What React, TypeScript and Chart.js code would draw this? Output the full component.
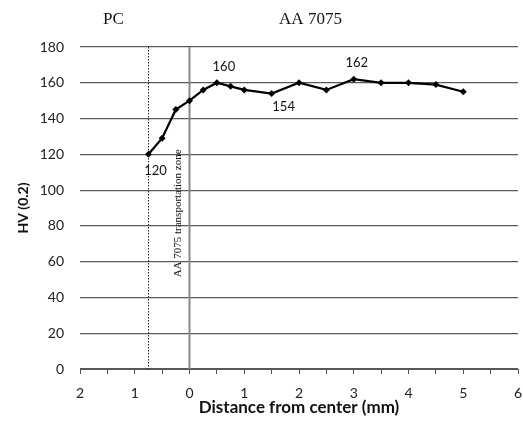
import React, { useEffect, useRef } from 'react';
import { Chart, registerables } from 'chart.js';

Chart.register(...registerables);

// ---- data ----
const distances = [-0.75, -0.5, -0.25, 0, 0.25, 0.5, 0.75, 1, 1.5, 2, 2.5, 3, 3.5, 4, 4.5, 5];
const hardness = [120, 129, 145, 150, 156, 160, 158, 156, 154, 160, 156, 162, 160, 160, 159, 155];
const annotatedIndices = [0, 5, 8, 11];
const xMin = -2;
const xMax = 6;
const yMin = 0;
const yMax = 180;
const yStep = 20;
const pcBoundary = -0.75;
const centerLine = 0;
const regionNames = ['PC', 'AA 7075'];
const regionCenters = [-1.39, 2.21];
const zoneLabel = 'AA 7075 transportation zone';
const xTitle = 'Distance from center (mm)';
const yTitle = 'HV (0.2)';

// label offsets (px) relative to their point
const annotationOffsets = [
  [7, 16],
  [7, -16],
  [12, 13],
  [3, -16],
];

const overlayPlugin = {
  id: 'overlay',
  beforeDatasetsDraw(chart: any) {
    const { ctx, chartArea, scales } = chart;
    const xs = scales.x;
    ctx.save();
    // dotted PC boundary
    const xb = Math.round(xs.getPixelForValue(pcBoundary)) + 0.5;
    ctx.strokeStyle = '#222';
    ctx.lineWidth = 1;
    ctx.setLineDash([1.5, 1.5]);
    ctx.beginPath();
    ctx.moveTo(xb, chartArea.top);
    ctx.lineTo(xb, chartArea.bottom);
    ctx.stroke();
    // solid center line
    const xc = xs.getPixelForValue(centerLine);
    ctx.setLineDash([]);
    ctx.strokeStyle = '#8a8a8a';
    ctx.lineWidth = 2;
    ctx.beginPath();
    ctx.moveTo(xc, chartArea.top);
    ctx.lineTo(xc, chartArea.bottom);
    ctx.stroke();
    ctx.restore();
  },
  afterDraw(chart: any) {
    const { ctx, chartArea, scales } = chart;
    const xs = scales.x;
    const ys = scales.y;
    ctx.save();
    // region names
    ctx.fillStyle = '#111';
    ctx.font = '17px "Liberation Serif", serif';
    ctx.textAlign = 'center';
    ctx.textBaseline = 'middle';
    regionNames.forEach((name, i) => {
      ctx.fillText(name, xs.getPixelForValue(regionCenters[i]), chartArea.top - 27);
    });
    // vertical zone label
    ctx.font = '11px "Liberation Serif", serif';
    ctx.textBaseline = 'alphabetic';
    ctx.save();
    ctx.translate(xs.getPixelForValue(centerLine) - 9, ys.getPixelForValue(87));
    ctx.rotate(-Math.PI / 2);
    ctx.fillText(zoneLabel, 0, 0);
    ctx.restore();
    // value annotations
    ctx.font = '13px Lato, sans-serif';
    ctx.textBaseline = 'middle';
    ctx.fillStyle = '#111';
    annotatedIndices.forEach((idx, i) => {
      const px = xs.getPixelForValue(distances[idx]);
      const py = ys.getPixelForValue(hardness[idx]);
      ctx.fillText(String(hardness[idx]), px + annotationOffsets[i][0], py + annotationOffsets[i][1]);
    });
    ctx.restore();
  },
};

export default function App() {
  const canvasRef = useRef<HTMLCanvasElement | null>(null);

  useEffect(() => {
    const canvas = canvasRef.current;
    if (!canvas) return;
    const chart = new Chart(canvas, {
      type: 'line',
      data: {
        datasets: [
          {
            data: distances.map((d, i) => ({ x: d, y: hardness[i] })),
            borderColor: '#000',
            backgroundColor: '#000',
            borderWidth: 2.2,
            pointStyle: 'rectRot',
            pointRadius: 3.5,
            pointBorderWidth: 0,
            tension: 0,
          },
        ],
      },
      options: {
        responsive: false,
        animation: false,
        layout: { padding: { top: 47, right: 5, left: 0, bottom: 0 } },
        plugins: {
          legend: { display: false },
          tooltip: { enabled: false },
        },
        scales: {
          x: {
            type: 'linear',
            min: xMin,
            max: xMax,
            afterFit: (scale: any) => {
              scale.height = 66;
              scale.paddingLeft = 0;
              scale.paddingRight = 0;
            },
            ticks: {
              stepSize: 0.5,
              autoSkip: false,
              maxRotation: 0,
              padding: 11,
              color: '#222',
              font: { family: 'Lato', size: 14 },
              callback: (v: any) => (Number.isInteger(Number(v)) ? String(Math.abs(Number(v))) : ''),
            },
            grid: {
              drawOnChartArea: false,
              drawTicks: true,
              tickLength: 5,
              color: '#555',
            },
            border: { display: true, color: '#555', width: 1 },
            title: {
              display: true,
              text: xTitle,
              color: '#111',
              font: { family: 'Lato', size: 17, weight: 'bold' },
              padding: { top: 0, bottom: 17 },
            },
          },
          y: {
            min: yMin,
            max: yMax,
            afterFit: (scale: any) => {
              scale.width = 80;
              scale.paddingTop = 0;
              scale.paddingBottom = 0;
            },
            ticks: {
              stepSize: yStep,
              padding: 16,
              color: '#222',
              font: { family: 'Lato', size: 14 },
            },
            grid: {
              drawTicks: false,
              color: '#5a5a5a',
              lineWidth: 1.2,
            },
            border: { display: false },
            title: {
              display: true,
              text: yTitle,
              color: '#111',
              font: { family: 'Lato', size: 14, weight: 'bold' },
              padding: { top: 15, bottom: 0 },
            },
          },
        },
      },
      plugins: [overlayPlugin],
    });
    return () => chart.destroy();
  }, []);

  return (
    <div style={{ position: 'absolute', left: 0, top: 0, width: 523, height: 435, background: '#fff' }}>
      <canvas ref={canvasRef} width={523} height={435} style={{ display: 'block' }} />
    </div>
  );
}
